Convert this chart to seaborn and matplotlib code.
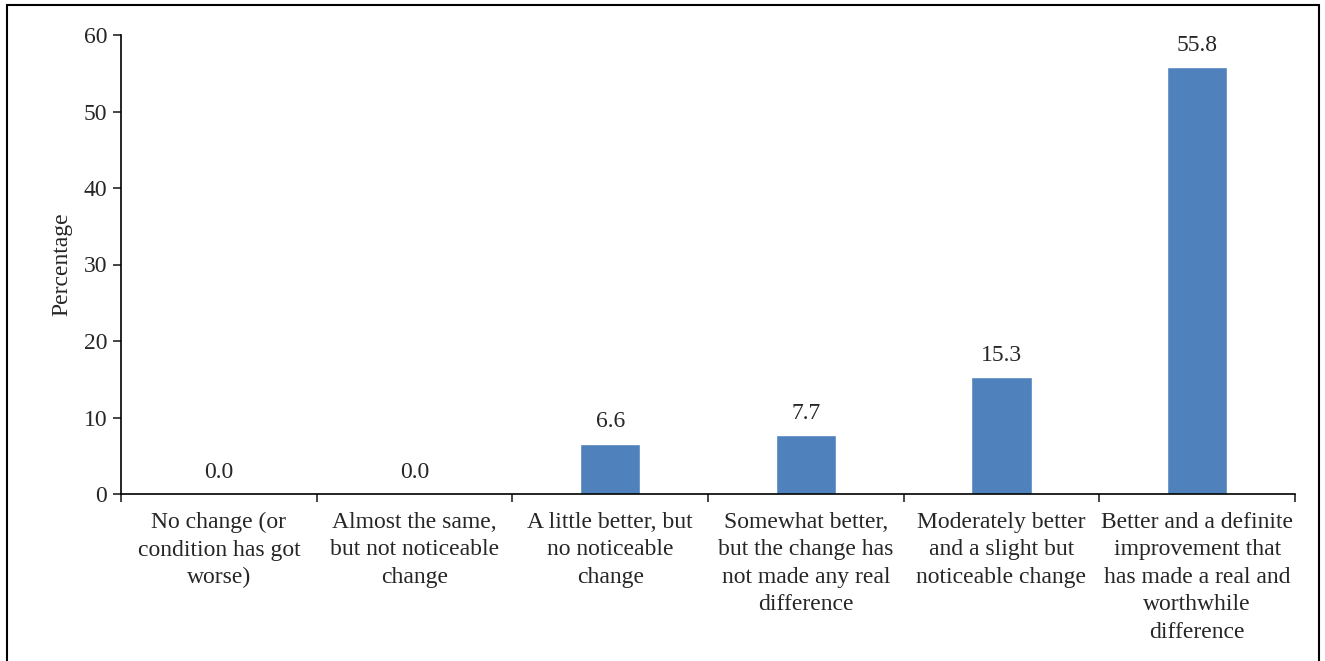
import numpy as np
import pandas as pd
import matplotlib
matplotlib.use("Agg")
import matplotlib.pyplot as plt
from matplotlib.patches import Rectangle
import seaborn as sns

categories = [
    "No change (or\ncondition has got\nworse)",
    "Almost the same,\nbut not noticeable\nchange",
    "A little better, but\nno noticeable\nchange",
    "Somewhat better,\nbut the change has\nnot made any real\ndifference",
    "Moderately better\nand a slight but\nnoticeable change",
    "Better and a definite\nimprovement that\nhas made a real and\nworthwhile\ndifference",
]
percentages = [0.0, 0.0, 6.6, 7.7, 15.3, 55.8]

df = pd.DataFrame({"cat": categories, "pct": percentages})

sns.set_style("white")
plt.rcParams["font.family"] = ["Liberation Serif", "DejaVu Serif"]

fig = plt.figure(figsize=(13.25, 6.61), dpi=100)
ax = fig.add_axes([121 / 1325, 1 - 494 / 661, (1295 - 121) / 1325, (494 - 35) / 661])

sns.barplot(data=df, x="cat", y="pct", color="#4F81BD", saturation=1, width=0.31, ax=ax)
ax.bar_label(ax.containers[0], fmt="%.1f", padding=8, fontsize=17)

ax.set_xlim(-0.5, 5.5)
ax.set_ylim(0, 60)
ax.set_yticks(range(0, 61, 10))
ax.tick_params(axis="y", labelsize=17, length=6, width=1.2, direction="out", left=True, pad=4)

# category boundaries as major ticks, labels on minor ticks at centres
ax.set_xticks(np.arange(-0.5, 6, 1))
ax.set_xticklabels([])
ax.set_xticks(range(len(categories)), minor=True)
ax.set_xticklabels(categories, minor=True, fontsize=17, linespacing=1.4)
ax.tick_params(axis="x", which="major", length=6, width=1.2, direction="out", bottom=True)
ax.tick_params(axis="x", which="minor", length=0, pad=13)

ax.set_xlabel("")
ax.set_ylabel("Percentage", fontsize=17, labelpad=8)

for s in ["top", "right"]:
    ax.spines[s].set_visible(False)
for s in ["left", "bottom"]:
    ax.spines[s].set_color("black")
    ax.spines[s].set_linewidth(1.2)

fig.patches.append(Rectangle((7 / 1325, -0.1), (1319 - 7) / 1325, 1.1 - 5 / 661,
                             transform=fig.transFigure, fill=False,
                             edgecolor="black", linewidth=1.5))

fig.savefig("out.png", dpi=100)
